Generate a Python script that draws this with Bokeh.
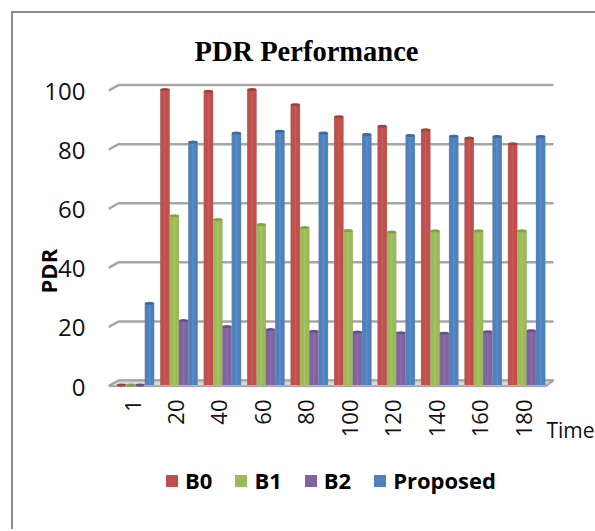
from bokeh.plotting import figure
from bokeh.layouts import column
from bokeh.embed import file_html
from bokeh.resources import INLINE
from bokeh.models import Legend, LegendItem, FixedTicker, Range1d, Title, LinearAxis
from bokeh.core.properties import value

categories = ["1", "20", "40", "60", "80", "100", "120", "140", "160", "180"]
B0 = [0, 100, 99.4, 100, 94.8, 90.8, 87.6, 86.4, 83.6, 81.6]
B1 = [0, 57.3, 56, 54.3, 53.3, 52.3, 51.8, 52.2, 52.2, 52.2]
B2 = [0, 21.8, 19.8, 18.8, 18.2, 17.9, 17.7, 17.5, 18, 18.4]
Proposed = [27.7, 82.2, 85.3, 85.9, 85.3, 84.8, 84.4, 84.2, 84.1, 84.1]
y_ticks = [0, 20, 40, 60, 80, 100]
series = [("B0", B0, "#C0504D", "#A33F3C", "#D0625F"),
          ("B1", B1, "#9BBB59", "#83A145", "#AECB6F"),
          ("B2", B2, "#8064A2", "#694F89", "#9379B4"),
          ("Proposed", Proposed, "#4F81BD", "#3C6BA3", "#6595CF")]
offsets = [-0.253, -0.039, 0.175, 0.391]
bar_w = 0.212

W, H = 595, 448
LEG_H = 83
LEFT, RIGHT, TOP, BOTTOM = 108, 595, 80, 387   # frame in canvas pixels
WALL_RIGHT = 553
PX_X = 43.46
PX_Y = 2.955
x0_px = 132.0   # canvas px of category index 0
y0_px = 384.5   # canvas px of value 0
EDGE = "#8C8C8C"


def to_x(px):
    return (px - x0_px) / PX_X


p = figure(width=W, height=H, output_backend="svg", toolbar_location=None,
           x_range=Range1d(to_x(LEFT), to_x(RIGHT)),
           y_range=Range1d((y0_px - BOTTOM) / PX_Y, (y0_px - TOP) / PX_Y),
           frame_width=RIGHT - LEFT, frame_height=BOTTOM - TOP,
           min_border_left=LEFT, min_border_right=0,
           min_border_top=TOP, min_border_bottom=0,
           border_fill_color=None,
           styles={"background": f"linear-gradient({EDGE},{EDGE}) 11px 11px/584px 2px no-repeat, "
                                 f"linear-gradient({EDGE},{EDGE}) 11px 11px/2px {H}px no-repeat"})
p.outline_line_color = None
p.grid.visible = False
p.background_fill_color = None

t = Title(text="PDR Performance", text_font="Liberation Serif", text_font_style="bold",
          text_font_size="28.5px", align="left", offset=86, standoff=28, text_color="#000000")
p.add_layout(t, "above")

xs = list(range(len(categories)))

# gridlines of the back wall and side wall
GRID = "#A6A6A6"
back_up = 1.5
front_dn = 0.4
for v in y_ticks:
    p.line([to_x(LEFT), to_x(LEFT + 10), to_x(WALL_RIGHT)],
           [v - front_dn, v + back_up, v + back_up], line_color=GRID, line_width=2.5)
# floor
p.patch([to_x(LEFT), to_x(LEFT + 10), to_x(WALL_RIGHT), to_x(WALL_RIGHT - 8)],
        [-front_dn, back_up, back_up, -front_dn],
        fill_color="#D9D9D9", line_color=GRID, line_width=2)

for (name, vals, col, dark, light), off in zip(series, offsets):
    cx = [x + off for x in xs]
    p.vbar(x=cx, top=vals, bottom=0, width=bar_w + 0.012, fill_color="#8F8F8F", fill_alpha=0.6, line_color=None)
    p.vbar(x=cx, top=vals, bottom=0, width=bar_w, fill_color=col, line_color=None)
    p.vbar(x=cx, top=vals, bottom=0, width=bar_w * 0.18, fill_color=light, fill_alpha=0.55, line_color=None)
    p.ellipse(x=cx, y=vals, width=bar_w, height=3, height_units="screen",
              fill_color=dark, line_color=None)

# axes
xa = p.xaxis[0]
xa.ticker = FixedTicker(ticks=xs)
xa.major_label_overrides = {i: c for i, c in enumerate(categories)}
xa.major_label_orientation = 1.5708
xa.major_label_text_font = "Open Sans"
xa.major_label_text_font_size = "22px"
xa.major_label_text_color = "#111111"
xa.major_label_standoff = 6
xa.axis_line_color = None
xa.major_tick_line_color = None
xa.minor_tick_line_color = None

# the x axis's own caption, at the far right of the axis
time_x = round(to_x(570), 3)
ta = LinearAxis(ticker=FixedTicker(ticks=[time_x]), major_label_overrides={time_x: "Time"},
                major_label_text_font="Open Sans", major_label_text_font_size="21px",
                major_label_text_color="#111111", major_label_standoff=-25,
                major_tick_out=0, major_tick_in=0,
                axis_line_color=None, major_tick_line_color=None, minor_tick_line_color=None)
p.add_layout(ta, "below")

label_drop = 0.7
ya = p.yaxis[0]
ya.ticker = FixedTicker(ticks=[round(v - label_drop, 1) for v in y_ticks])
ya.major_label_overrides = {round(v - label_drop, 1): str(v) for v in y_ticks}
ya.major_label_text_font = "Open Sans"
ya.major_label_text_font_size = "24px"
ya.major_label_text_color = "#111111"
ya.major_label_standoff = 17
ya.axis_line_color = None
ya.major_tick_line_color = None
ya.minor_tick_line_color = None
ya.axis_label = "PDR" + "\u00a0" * 13
ya.axis_label_text_font = "Open Sans"
ya.axis_label_text_font_style = "bold"
ya.axis_label_text_font_size = "22px"
ya.axis_label_text_color = "#000000"
ya.axis_label_standoff = -22

# legend strip under the chart: its bars lie below this strip's view, only the legend shows
q = figure(width=W, height=LEG_H, output_backend="svg", toolbar_location=None,
           x_range=Range1d(-1, 10), y_range=Range1d(1000, 1001),
           x_axis_location=None, y_axis_location=None,
           frame_width=RIGHT - LEFT, frame_height=LEG_H,
           min_border_left=LEFT, min_border_right=0, min_border_top=0, min_border_bottom=0,
           border_fill_color=None,
           styles={"background": f"linear-gradient({EDGE},{EDGE}) 11px 0/2px {LEG_H}px no-repeat"})
q.outline_line_color = None
q.grid.visible = False
q.background_fill_color = None

items = []
for (name, vals, col, dark, light), off in zip(series, offsets):
    r = q.vbar(x=[x + off for x in xs], top=vals, bottom=0, width=bar_w, fill_color=col, line_color=None)
    items.append(LegendItem(label=value(name), renderers=[r]))

legend = Legend(items=items, orientation="horizontal", location=(56, 34),
                border_line_color=None, background_fill_alpha=0,
                glyph_width=15, glyph_height=15,
                label_text_font="Open Sans", label_text_font_style="bold",
                label_text_font_size="22px", label_text_color="#000000",
                spacing=21, margin=0, padding=0, label_standoff=6)
q.add_layout(legend, "center")

layout = column(p, q, spacing=0)
open("out.html", "w").write(file_html(layout, INLINE))
